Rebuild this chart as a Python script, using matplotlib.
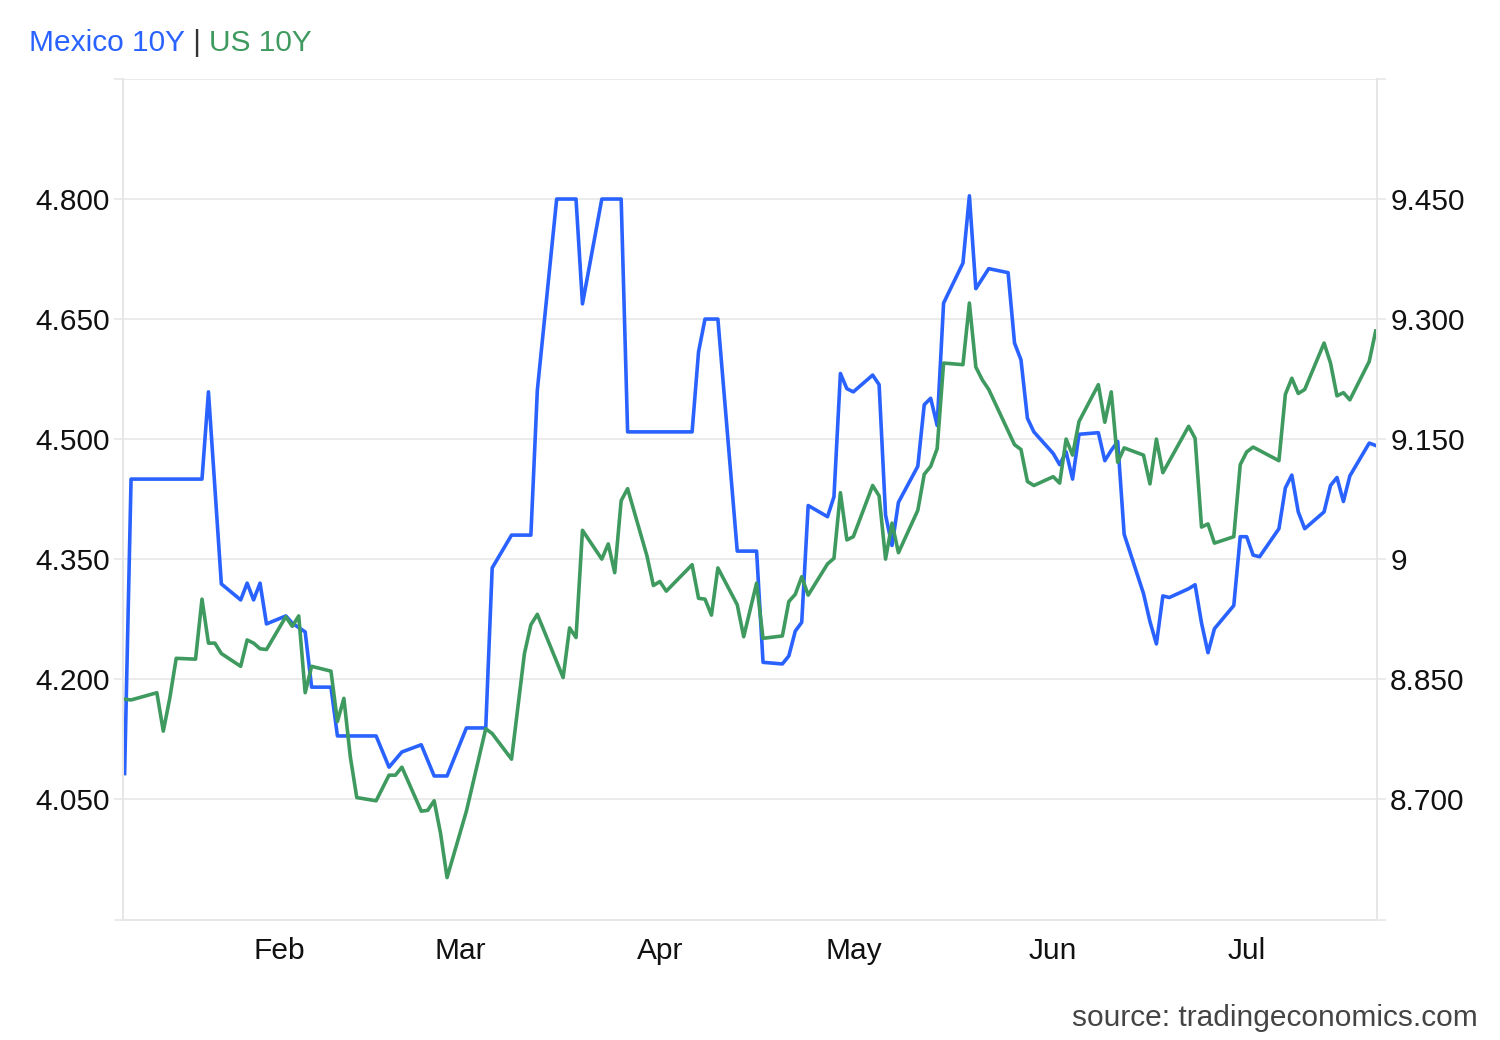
import pandas as pd
import matplotlib
matplotlib.use("Agg")
import matplotlib.pyplot as plt
import matplotlib.dates as mdates

plt.rcParams['font.family'] = ['Liberation Sans', 'DejaVu Sans']

# Mexico 10Y (right axis)
mx_dates = [
    "2026-01-08", "2026-01-09", "2026-01-20", "2026-01-21", "2026-01-23", "2026-01-26",
    "2026-01-27", "2026-01-28", "2026-01-29", "2026-01-30", "2026-02-02", "2026-02-03",
    "2026-02-05", "2026-02-06", "2026-02-09", "2026-02-10", "2026-02-16", "2026-02-18",
    "2026-02-20", "2026-02-23", "2026-02-25", "2026-02-27", "2026-03-02", "2026-03-05",
    "2026-03-06", "2026-03-09", "2026-03-12", "2026-03-13", "2026-03-16", "2026-03-19",
    "2026-03-20", "2026-03-23", "2026-03-26", "2026-03-27", "2026-04-06", "2026-04-07",
    "2026-04-08", "2026-04-10", "2026-04-13", "2026-04-16", "2026-04-17", "2026-04-20",
    "2026-04-21", "2026-04-22", "2026-04-23", "2026-04-24", "2026-04-27", "2026-04-28",
    "2026-04-29", "2026-04-30", "2026-05-01", "2026-05-04", "2026-05-05", "2026-05-06",
    "2026-05-07", "2026-05-08", "2026-05-11", "2026-05-12", "2026-05-13", "2026-05-14",
    "2026-05-15", "2026-05-18", "2026-05-19", "2026-05-20", "2026-05-22", "2026-05-25",
    "2026-05-26", "2026-05-27", "2026-05-28", "2026-05-29", "2026-06-01", "2026-06-02",
    "2026-06-03", "2026-06-04", "2026-06-05", "2026-06-08", "2026-06-09", "2026-06-10",
    "2026-06-11", "2026-06-12", "2026-06-15", "2026-06-16", "2026-06-17", "2026-06-18",
    "2026-06-19", "2026-06-22", "2026-06-23", "2026-06-24", "2026-06-25", "2026-06-26",
    "2026-06-29", "2026-06-30", "2026-07-01", "2026-07-02", "2026-07-03", "2026-07-06",
    "2026-07-07", "2026-07-08", "2026-07-09", "2026-07-10", "2026-07-13", "2026-07-14",
    "2026-07-15", "2026-07-16", "2026-07-17", "2026-07-20", "2026-07-21",
]
mx_10y = [
    8.732, 9.100, 9.100, 9.209, 8.969, 8.949,
    8.970, 8.949, 8.970, 8.919, 8.929, 8.920,
    8.909, 8.840, 8.840, 8.779, 8.779, 8.740,
    8.759, 8.768, 8.729, 8.729, 8.789, 8.789,
    8.989, 9.030, 9.030, 9.211, 9.450, 9.450,
    9.319, 9.450, 9.450, 9.159, 9.159, 9.259,
    9.300, 9.300, 9.010, 9.010, 8.871, 8.869,
    8.879, 8.910, 8.921, 9.067, 9.053, 9.078,
    9.232, 9.213, 9.209, 9.230, 9.218, 9.055,
    9.017, 9.071, 9.116, 9.193, 9.201, 9.167,
    9.320, 9.370, 9.454, 9.338, 9.363, 9.358,
    9.270, 9.249, 9.176, 9.159, 9.132, 9.118,
    9.134, 9.100, 9.156, 9.158, 9.123, 9.136,
    9.147, 9.031, 8.957, 8.922, 8.894, 8.954,
    8.952, 8.963, 8.968, 8.920, 8.883, 8.913,
    8.942, 9.028, 9.028, 9.005, 9.003, 9.038,
    9.089, 9.105, 9.059, 9.038, 9.059, 9.092,
    9.102, 9.072, 9.104, 9.145, 9.142,
]

# US 10Y (left axis)
us_dates = [
    "2026-01-08", "2026-01-09", "2026-01-13", "2026-01-14", "2026-01-15", "2026-01-16",
    "2026-01-19", "2026-01-20", "2026-01-21", "2026-01-22", "2026-01-23", "2026-01-26",
    "2026-01-27", "2026-01-28", "2026-01-29", "2026-01-30", "2026-02-02", "2026-02-03",
    "2026-02-04", "2026-02-05", "2026-02-06", "2026-02-09", "2026-02-10", "2026-02-11",
    "2026-02-12", "2026-02-13", "2026-02-16", "2026-02-18", "2026-02-19", "2026-02-20",
    "2026-02-23", "2026-02-24", "2026-02-25", "2026-02-26", "2026-02-27", "2026-03-02",
    "2026-03-05", "2026-03-06", "2026-03-09", "2026-03-11", "2026-03-12", "2026-03-13",
    "2026-03-17", "2026-03-18", "2026-03-19", "2026-03-20", "2026-03-23", "2026-03-24",
    "2026-03-25", "2026-03-26", "2026-03-27", "2026-03-30", "2026-03-31", "2026-04-01",
    "2026-04-02", "2026-04-06", "2026-04-07", "2026-04-08", "2026-04-09", "2026-04-10",
    "2026-04-13", "2026-04-14", "2026-04-16", "2026-04-17", "2026-04-20", "2026-04-21",
    "2026-04-22", "2026-04-23", "2026-04-24", "2026-04-27", "2026-04-28", "2026-04-29",
    "2026-04-30", "2026-05-01", "2026-05-04", "2026-05-05", "2026-05-06", "2026-05-07",
    "2026-05-08", "2026-05-11", "2026-05-12", "2026-05-13", "2026-05-14", "2026-05-15",
    "2026-05-18", "2026-05-19", "2026-05-20", "2026-05-21", "2026-05-22", "2026-05-26",
    "2026-05-27", "2026-05-28", "2026-05-29", "2026-06-01", "2026-06-02", "2026-06-03",
    "2026-06-04", "2026-06-05", "2026-06-08", "2026-06-09", "2026-06-10", "2026-06-11",
    "2026-06-12", "2026-06-15", "2026-06-16", "2026-06-17", "2026-06-18", "2026-06-22",
    "2026-06-23", "2026-06-24", "2026-06-25", "2026-06-26", "2026-06-29", "2026-06-30",
    "2026-07-01", "2026-07-02", "2026-07-06", "2026-07-07", "2026-07-08", "2026-07-09",
    "2026-07-10", "2026-07-13", "2026-07-14", "2026-07-15", "2026-07-16", "2026-07-17",
    "2026-07-20", "2026-07-21",
]
us_10y = [
    4.175, 4.174, 4.183, 4.135, 4.176, 4.226,
    4.225, 4.300, 4.245, 4.245, 4.232, 4.216,
    4.249, 4.245, 4.238, 4.237, 4.278, 4.266,
    4.279, 4.183, 4.216, 4.210, 4.147, 4.176,
    4.103, 4.052, 4.048, 4.080, 4.080, 4.090,
    4.035, 4.036, 4.048, 4.007, 3.952, 4.035,
    4.138, 4.132, 4.100, 4.232, 4.268, 4.281,
    4.202, 4.264, 4.252, 4.386, 4.350, 4.369,
    4.333, 4.423, 4.438, 4.354, 4.317, 4.322,
    4.310, 4.343, 4.301, 4.300, 4.280, 4.339,
    4.293, 4.253, 4.320, 4.251, 4.254, 4.297,
    4.306, 4.328, 4.305, 4.344, 4.351, 4.433,
    4.374, 4.378, 4.442, 4.429, 4.350, 4.395,
    4.358, 4.411, 4.456, 4.466, 4.488, 4.595,
    4.593, 4.670, 4.590, 4.574, 4.562, 4.493,
    4.487, 4.447, 4.442, 4.453, 4.445, 4.500,
    4.480, 4.522, 4.568, 4.521, 4.559, 4.471,
    4.489, 4.480, 4.444, 4.500, 4.458, 4.516,
    4.501, 4.390, 4.394, 4.370, 4.378, 4.468,
    4.484, 4.490, 4.473, 4.556, 4.576, 4.557,
    4.562, 4.620, 4.595, 4.554, 4.558, 4.549,
    4.597, 4.635,
]

us_ticks = [4.05, 4.20, 4.35, 4.50, 4.65, 4.80]
us_labels = ["4.050", "4.200", "4.350", "4.500", "4.650", "4.800"]
mx_ticks = [8.70, 8.85, 9.00, 9.15, 9.30, 9.45]
mx_labels = ["8.700", "8.850", "9", "9.150", "9.300", "9.450"]

blue = "#2962ff"
green = "#3f9a5f"
grid_col = "#e6e6e6"
fs = 21.5

us_lim = (3.899, 4.950)
mx_lim = (8.549, 9.600)

fig = plt.figure(figsize=(15, 10.4), dpi=100)
ax = fig.add_axes([123 / 1500, 1 - 920 / 1040, (1377 - 123) / 1500, (920 - 79) / 1040])
ax2 = ax.twinx()

# blue (Mexico) below, green (US) on top
ax.set_zorder(2)
ax2.set_zorder(1)
ax.patch.set_visible(False)

ax2.plot(pd.to_datetime(mx_dates), mx_10y, color=blue, lw=2.6, solid_joinstyle="round")
ax.plot(pd.to_datetime(us_dates), us_10y, color=green, lw=2.6, solid_joinstyle="round")

ax.set_xlim(pd.Timestamp("2026-01-07 18:00"), pd.Timestamp("2026-07-21 05:00"))
ax.set_ylim(*us_lim)
ax2.set_ylim(*mx_lim)

ax.set_yticks([us_lim[0]] + us_ticks + [us_lim[1]])
ax.set_yticklabels([""] + us_labels + [""])
ax2.set_yticks([mx_lim[0]] + mx_ticks + [mx_lim[1]])
ax2.set_yticklabels([""] + mx_labels + [""])

ax.xaxis.set_major_locator(mdates.MonthLocator())
ax.xaxis.set_major_formatter(mdates.DateFormatter("%b"))

ax.tick_params(axis="y", length=6.5, width=1.1, color=grid_col, pad=3, labelsize=fs, labelcolor="#111111")
ax2.tick_params(axis="y", length=6.5, width=1.1, color=grid_col, pad=3, labelsize=fs, labelcolor="#111111")
ax.tick_params(axis="x", length=0, pad=12, labelsize=fs, labelcolor="#111111")

ax.grid(False)
ax2.grid(axis="y", color=grid_col, lw=1.1)
ax2.xaxis.set_major_locator(mdates.MonthLocator())
ax2.grid(axis="x", color="#edf0f4", lw=1.1)
ax2.set_axisbelow(True)

for a in (ax, ax2):
    for side in a.spines:
        a.spines[side].set_color(grid_col)
        a.spines[side].set_linewidth(1.4)
    a.spines["top"].set_visible(False)

t1 = fig.text(29 / 1500, 1 - 51 / 1040, "Mexico 10Y", color=blue, fontsize=fs, va="baseline", ha="left")
t2 = ax.annotate(" | ", xy=(1, 0), xycoords=t1, color="#333333", fontsize=fs, va="bottom", ha="left",
                 annotation_clip=False)
ax.annotate("US 10Y", xy=(1, 0), xycoords=t2, color=green, fontsize=fs, va="bottom", ha="left",
            annotation_clip=False)

fig.text(1478 / 1500, 1 - 1026 / 1040, "source: tradingeconomics.com", color="#444444",
         fontsize=fs, va="baseline", ha="right")

fig.savefig("out.png", dpi=100, facecolor="white")
